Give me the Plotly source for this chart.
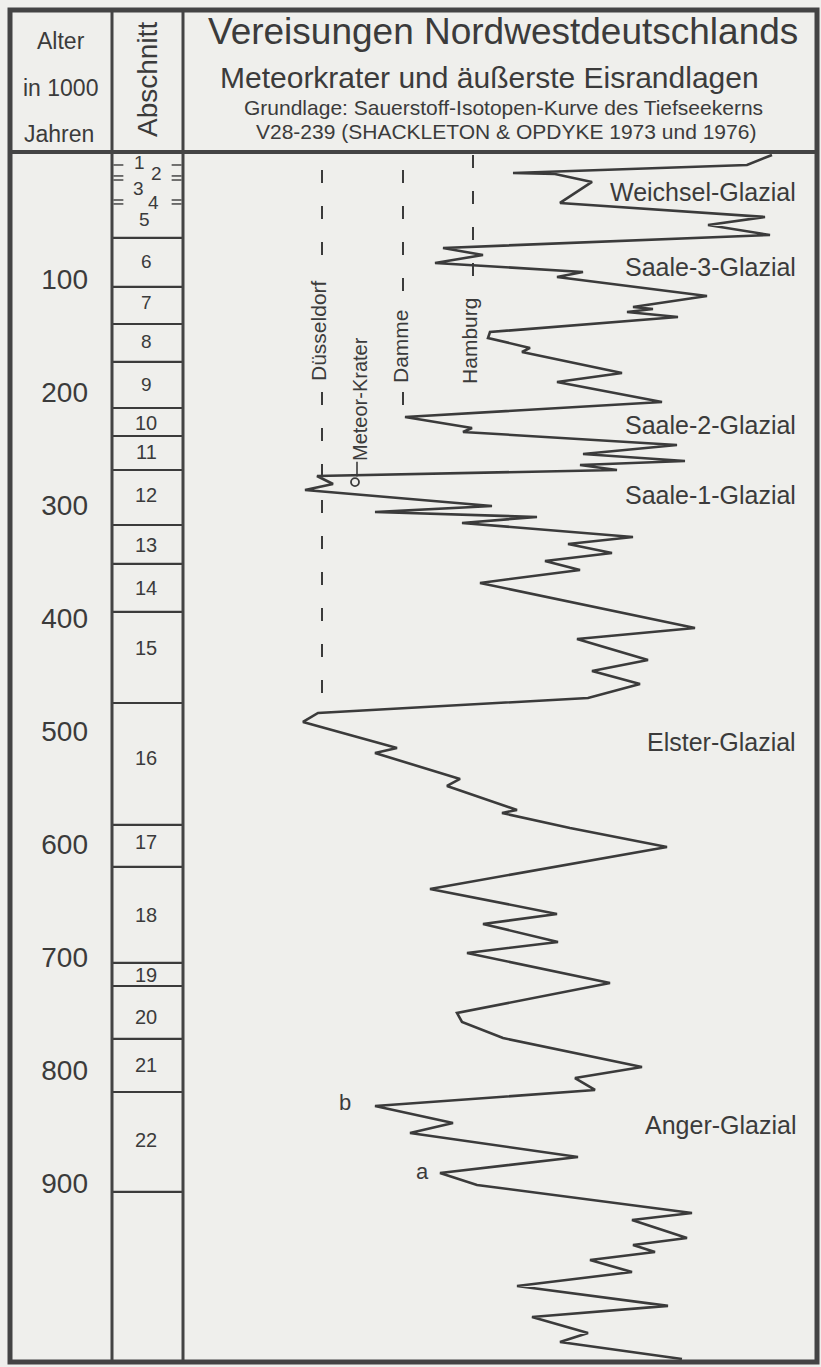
import plotly.graph_objects as go

W, H = 821, 1367
FONT = "Liberation Sans, Arial, sans-serif"
INK = "#3b3b3b"
BG = "#efefec"

# ---------------- data ----------------
age_ticks = [100, 200, 300, 400, 500, 600, 700, 800, 900]
age_tick_labels = ["100", "200", "300", "400", "500", "600", "700", "800", "900"]

# oxygen-isotope curve (relative units, larger = colder/right) vs age in 1000 years
curve_age = [-10.4, -1.5, 5.6, 6.5, 13.5, 32.1, 44.5, 51.6, 60.5, 72.0,
             78.2, 85.3, 93.2, 97.7, 114.5, 124.2, 126.0, 128.7, 133.1, 146.4,
             151.7, 160.5, 164.1, 182.7, 190.6, 208.4, 221.6, 231.4, 234.9, 246.4,
             254.4, 260.6, 264.1, 268.6, 273.9, 281.0, 286.3, 300.5, 305.8, 310.2,
             315.5, 327.9, 334.1, 342.1, 349.2, 357.1, 368.6, 408.5, 418.2, 436.8,
             446.6, 458.1, 470.5, 483.7, 491.7, 514.8, 519.2, 542.2, 548.4, 569.6,
             572.3, 585.6, 602.4, 639.6, 661.7, 670.6, 686.5, 696.3, 722.8, 749.4,
             757.4, 771.6, 797.2, 807.0, 817.6, 831.8, 846.8, 855.7, 876.9, 891.1,
             901.7, 926.5, 932.7, 948.6, 954.8, 961.1, 968.1, 978.8, 991.1, 1008.8,
             1018.6, 1032.8, 1040.7, 1055.8]
curve_value = [589, 564, 330, 372, 409, 377, 582, 525, 587, 260,
               300, 252, 400, 374, 524, 450, 470, 444, 495, 307,
               305, 347, 339, 439, 374, 479, 222, 289, 280, 494,
               400, 502, 397, 434, 134, 150, 122, 309, 192, 354,
               279, 450, 385, 429, 362, 397, 297, 512, 394, 465,
               409, 457, 405, 135, 120, 214, 192, 277, 264, 334,
               319, 387, 484, 247, 374, 300, 375, 284, 427, 274,
               279, 320, 459, 392, 412, 192, 270, 227, 395, 257,
               294, 509, 449, 504, 450, 472, 407, 449, 334, 485,
               349, 405, 377, 499]

# Abschnitte (isotope stages)
stage_numbers = ["1", "2", "3", "4", "5", "6", "7", "8", "9", "10", "11",
                 "12", "13", "14", "15", "16", "17", "18", "19", "20", "21", "22"]
stage_label_age = [-3.3, 5.6, 19.7, 32.1, 47.2, 84.4, 120.7, 155.2, 193.3, 227.0,
                   252.6, 290.7, 335.0, 373.0, 426.2, 523.6, 598.0, 662.6, 715.8,
                   752.9, 795.4, 861.9]
stage_boundaries = [63.1, 106.5, 139.3, 172.9, 213.7, 238.5, 268.6, 317.3, 351.8,
                    394.3, 474.9, 582.9, 620.1, 705.1, 725.5, 772.4, 819.4, 907.9]
stage_minor_ticks = [-1.5, 8.2, 11.8, 29.5, 33.0]

# glaciations
glacial_names = ["Weichsel-Glazial", "Saale-3-Glazial", "Saale-2-Glazial",
                 "Saale-1-Glazial", "Elster-Glazial", "Anger-Glazial"]
glacial_label_age = [22.6, 88.8, 228.7, 290.7, 509.4, 848.6]

# outermost ice-margin positions
marker_names = ["Düsseldorf", "Damme", "Hamburg"]
marker_value = [139, 220, 290]
marker_top_age = [2.9, 2.9, -10.4]
marker_bottom_age = [472.2, 220.7, 109.3]
marker_label_age = [145.5, 158.8, 154.3]
marker_gap_start = [91.6, 118.0, 109.3]
marker_gap_end = [199.5, 199.5, 146.4]

crater_name = "Meteor-Krater"
crater_value = 172
crater_age = 279.3
crater_label_age = 205.7

point_names = ["b", "a"]
point_value = [162, 239]
point_age = [828.3, 890.2]

# ---------------- figure ----------------
def px(x):
    return x / W


def py(y):
    return 1 - y / H


Y_RANGE = [1062.9, -147.6]

fig = go.Figure()

# curve
fig.add_trace(go.Scatter(x=curve_value, y=curve_age, mode="lines",
                         line=dict(color=INK, width=2.6), hoverinfo="skip",
                         showlegend=False))

# ice-margin dashed lines
for name, xv, top, bot, g0, g1 in zip(marker_names, marker_value, marker_top_age,
                                       marker_bottom_age, marker_gap_start, marker_gap_end):
    segs = [(top, g0)]
    if g1 < bot:
        segs.append((g1, bot))
    for a0, a1 in segs:
        fig.add_trace(go.Scatter(x=[xv, xv], y=[a0, a1], mode="lines",
                                 line=dict(color=INK, width=2, dash="13px,23px"),
                                 hoverinfo="skip", showlegend=False))

# meteor crater marker
fig.add_trace(go.Scatter(x=[crater_value + 2, crater_value + 2],
                         y=[crater_age - 18, crater_age - 5], mode="lines",
                         line=dict(color=INK, width=1.6), hoverinfo="skip",
                         showlegend=False))
fig.add_trace(go.Scatter(x=[crater_value], y=[crater_age], mode="markers",
                         marker=dict(symbol="circle-open", size=8, color=INK,
                                     line=dict(color=INK, width=1.8)),
                         hoverinfo="skip", showlegend=False))

shapes = []
# stage boxes (xaxis2: Abschnitt column)
for b in stage_boundaries:
    shapes.append(dict(type="line", xref="x2", yref="y", x0=0, x1=1, y0=b, y1=b,
                       line=dict(color=INK, width=2.2)))
for t in stage_minor_ticks:
    for (a, c) in [(0.02, 0.16), (0.84, 0.98)]:
        shapes.append(dict(type="line", xref="x2", yref="y", x0=a, x1=c, y0=t, y1=t,
                           line=dict(color=INK, width=1.4)))

# frame
shapes.append(dict(type="rect", xref="paper", yref="paper",
                   x0=px(10), x1=px(817), y0=py(1362), y1=py(10),
                   line=dict(color="#444444", width=5)))
shapes.append(dict(type="line", xref="paper", yref="paper",
                   x0=px(10), x1=px(817), y0=py(152), y1=py(152),
                   line=dict(color="#444444", width=4)))
for xx in [112, 183]:
    shapes.append(dict(type="line", xref="paper", yref="paper",
                       x0=px(xx), x1=px(xx), y0=py(1362), y1=py(10),
                       line=dict(color="#444444", width=3)))

ann = []
# header texts
def htext(text, x, y, size, angle=0):
    ann.append(dict(text=text, xref="paper", yref="paper", x=px(x), y=py(y),
                    xanchor="center", yanchor="middle", showarrow=False,
                    textangle=angle, font=dict(family=FONT, size=size, color=INK)))

htext("Alter", 61, 41, 23)
htext("in 1000", 60, 88, 23)
htext("Jahren", 59, 134, 23)
htext("Abschnitt", 148, 80, 28, -90)
htext("Vereisungen Nordwestdeutschlands", 503, 32, 37)
htext("Meteorkrater und äußerste Eisrandlagen", 489, 77, 30)
htext("Grundlage: Sauerstoff-Isotopen-Kurve des Tiefseekerns", 503, 107, 21)
htext("V28-239 (SHACKLETON &amp; OPDYKE 1973 und 1976)", 506, 131, 21)

# stage numbers
stage_x = [0.39, 0.63, 0.38, 0.59, 0.46] + [0.48] * 17
for s, a, xx in zip(stage_numbers, stage_label_age, stage_x):
    ann.append(dict(text=s, xref="x2", yref="y", x=xx, y=a, showarrow=False,
                    xanchor="center", yanchor="middle",
                    font=dict(family=FONT, size=19 if len(s) == 1 else 20, color=INK)))

# glacial labels
for n, a in zip(glacial_names, glacial_label_age):
    ann.append(dict(text=n, xref="x", yref="y", x=615, y=a, showarrow=False,
                    xanchor="right", yanchor="middle",
                    font=dict(family=FONT, size=25, color=INK)))

# ice margin labels
for n, xv, a in zip(marker_names, marker_value, marker_label_age):
    ann.append(dict(text=n, xref="x", yref="y", x=xv - 3, y=a, showarrow=False,
                    xanchor="center", yanchor="middle", textangle=-90,
                    font=dict(family=FONT, size=21, color=INK)))
ann.append(dict(text=crater_name, xref="x", yref="y", x=crater_value + 5,
                y=crater_label_age, showarrow=False, xanchor="center",
                yanchor="middle", textangle=-90,
                font=dict(family=FONT, size=20, color=INK)))

for n, xv, a in zip(point_names, point_value, point_age):
    ann.append(dict(text=n, xref="x", yref="y", x=xv, y=a, showarrow=False,
                    xanchor="center", yanchor="middle",
                    font=dict(family=FONT, size=22, color=INK)))

fig.update_layout(
    width=W, height=H, margin=dict(l=0, r=0, t=0, b=0),
    paper_bgcolor=BG, plot_bgcolor=BG, showlegend=False,
    shapes=shapes, annotations=ann,
    xaxis=dict(domain=[183 / W, 817 / W], range=[0, 634], visible=False,
               anchor="y"),
    xaxis2=dict(domain=[112 / W, 183 / W], range=[0, 1], visible=False,
                anchor="y"),
    yaxis=dict(domain=[0, 1], range=Y_RANGE, anchor="free", position=88 / W,
               side="left", tickvals=age_ticks, ticktext=age_tick_labels,
               showgrid=False, zeroline=False, showline=False, ticks="",
               tickfont=dict(family=FONT, size=28, color=INK)),
)

fig.write_html("out.html", config={"displayModeBar": False},
               post_script="document.body.style.margin='0';document.body.style.overflow='hidden';")
